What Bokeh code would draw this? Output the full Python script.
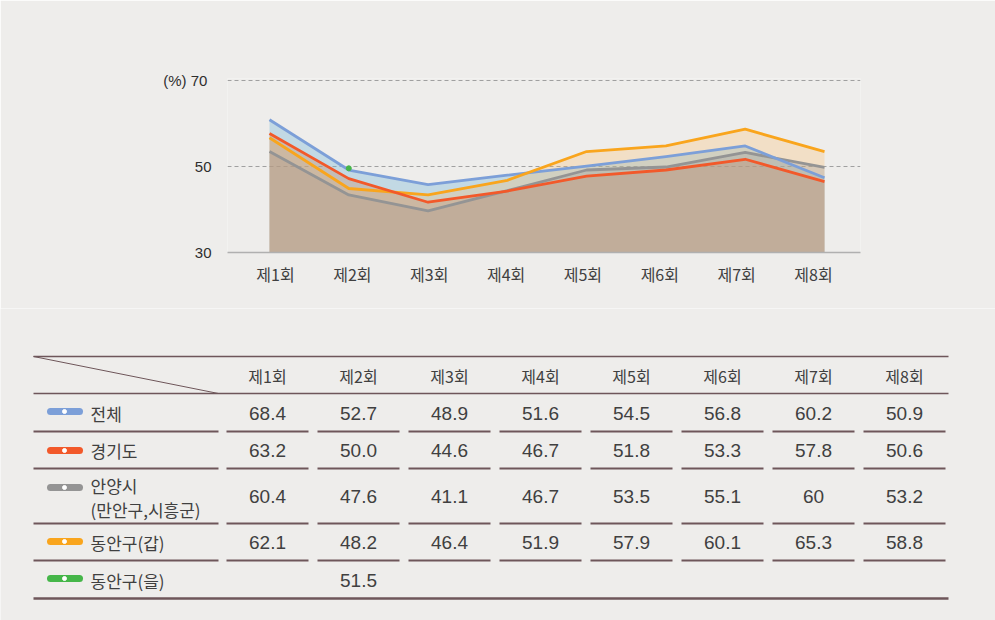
from bokeh.plotting import figure
from bokeh.models import Range1d, FixedTicker, LinearAxis
from bokeh.core.properties import value
from bokeh.embed import file_html
from bokeh.resources import INLINE

# ---------------- data ----------------
rounds = ["제1회", "제2회", "제3회", "제4회", "제5회", "제6회", "제7회", "제8회"]
x_idx = [1, 2, 3, 4, 5, 6, 7, 8]

series_names = ["전체", "경기도", "안양시", "동안구(갑)", "동안구(을)"]
# values as drawn in the chart
chart_total = [60.9, 49.2, 45.8, 48.0, 50.1, 52.3, 54.8, 47.4]
chart_gyeonggi = [57.7, 47.2, 41.7, 44.3, 47.8, 49.2, 51.7, 46.5]
chart_anyang = [53.5, 43.4, 39.7, 44.4, 49.2, 49.9, 53.3, 49.8]
chart_dongan_gap = [56.7, 44.9, 43.4, 46.8, 53.5, 54.8, 58.7, 53.5]
chart_dongan_eul_x = [2]
chart_dongan_eul = [49.6]

# values printed in the table
table_total = ["68.4", "52.7", "48.9", "51.6", "54.5", "56.8", "60.2", "50.9"]
table_gyeonggi = ["63.2", "50.0", "44.6", "46.7", "51.8", "53.3", "57.8", "50.6"]
table_anyang = ["60.4", "47.6", "41.1", "46.7", "53.5", "55.1", "60", "53.2"]
table_dongan_gap = ["62.1", "48.2", "46.4", "51.9", "57.9", "60.1", "65.3", "58.8"]
table_dongan_eul = ["", "51.5", "", "", "", "", "", ""]

y_ticks = [30, 50, 70]
y_tick_labels = {30: "30", 50: "50", 70: "(%)  70"}

# ---------------- styles ----------------
BG = "#eeedeb"
C_BLUE, C_RED, C_GRAY, C_ORANGE, C_GREEN = "#7c9fd8", "#f2592a", "#949494", "#f9a51d", "#45b649"
KFONT = "Noto Sans CJK KR"
NFONT = "Liberation Sans"
TXT = "#404040"
RULE = "#6e565a"

# ---------------- chart ----------------
p = figure(width=995, height=308, x_range=Range1d(0.4703, 8.454), y_range=Range1d(30, 70.5),
           output_backend="svg", toolbar_location=None,
           min_border_left=227, min_border_right=135, min_border_top=78, min_border_bottom=56)
p.background_fill_color = BG
p.border_fill_color = BG
p.outline_line_color = None
p.xaxis.visible = False
p.xgrid.visible = False

p.yaxis.ticker = FixedTicker(ticks=y_ticks)
p.yaxis.major_label_overrides = y_tick_labels
p.yaxis.major_label_text_font = NFONT
p.yaxis.major_label_text_font_size = "15px"
p.yaxis.major_label_text_color = "#2e2e2e"
p.yaxis.axis_line_color = None
p.yaxis.major_tick_line_color = None
p.yaxis.minor_tick_line_color = None
p.yaxis.major_tick_out = 0
p.yaxis.major_label_standoff = 16

p.ygrid.ticker = FixedTicker(ticks=[50, 70])
p.ygrid.grid_line_color = "#a0a0a0"
p.ygrid.grid_line_dash = "4 3"
p.ygrid.grid_line_width = 1.2

p.extra_x_ranges = {"lab": Range1d(0.3755, 8.6115)}
xax = LinearAxis(x_range_name="lab", ticker=FixedTicker(ticks=x_idx),
                 major_label_overrides={i: r for i, r in zip(x_idx, rounds)})
xax.axis_line_color = "#b0b0b0"
xax.axis_line_width = 1.5
xax.major_tick_line_color = None
xax.minor_tick_line_color = None
xax.major_tick_out = 0
xax.major_label_standoff = 9
xax.major_label_text_font = KFONT
xax.major_label_text_font_size = "16px"
xax.major_label_text_color = "#404040"
p.add_layout(xax, "below")

# areas (translucent, overlapping)
p.varea(x=x_idx, y1=30, y2=chart_total, fill_color="#70b4d7", fill_alpha=0.35)
p.varea(x=x_idx, y1=30, y2=chart_dongan_gap, fill_color="#feb957", fill_alpha=0.25)
p.varea(x=x_idx, y1=30, y2=chart_anyang, fill_color="#969696", fill_alpha=0.30)
p.varea(x=x_idx, y1=30, y2=chart_gyeonggi, fill_color="#c49072", fill_alpha=0.38)

for vals, col in [(chart_anyang, C_GRAY), (chart_total, C_BLUE),
                  (chart_dongan_gap, C_ORANGE), (chart_gyeonggi, C_RED)]:
    p.line(x_idx, vals, line_color=col, line_width=2.8, line_join="round")
p.scatter(chart_dongan_eul_x, chart_dongan_eul, size=5, color=C_GREEN)

# ---------------- table ----------------
t = figure(width=995, height=312, x_range=Range1d(0, 995), y_range=Range1d(312, 0),
           output_backend="svg", toolbar_location=None,
           x_axis_location=None, y_axis_location=None,
           min_border_left=0, min_border_right=0, min_border_top=0, min_border_bottom=0)
t.background_fill_color = BG
t.border_fill_color = BG
t.outline_line_color = None
t.xgrid.visible = False
t.ygrid.visible = False

col_x = [267 + 91 * i for i in range(8)]
left, right = 33, 948

# rules
t.segment(x0=[left], y0=[48], x1=[right], y1=[48], line_color=RULE, line_width=1.5)
t.segment(x0=[left], y0=[48], x1=[218], y1=[85], line_color=RULE, line_width=1)
t.segment(x0=[left], y0=[85], x1=[right], y1=[85], line_color=RULE, line_width=1.5)
row_rules = [123, 160, 215, 252]
sx0, sx1, sy = [], [], []
for ry in row_rules:
    sx0.append(left); sx1.append(218); sy.append(ry)
    for cx in col_x:
        sx0.append(cx - 41); sx1.append(min(cx + 41, right)); sy.append(ry)
t.segment(x0=sx0, y0=sy, x1=sx1, y1=sy, line_color=RULE, line_width=2)
t.segment(x0=[left], y0=[290], x1=[right], y1=[290], line_color=RULE, line_width=2.5)

# header
t.text(x=col_x, y=[67] * 8, text=rounds, text_font=value(KFONT), text_font_size="16px",
       text_color=TXT, text_align="center", text_baseline="middle")

rows = [
    (table_total, C_BLUE, 105, 103),
    (table_gyeonggi, C_RED, 142, 142),
    (table_anyang, C_GRAY, 188, 179),
    (table_dongan_gap, C_ORANGE, 233.5, 233),
    (table_dongan_eul, C_GREEN, 272, 270),
]
for (vals, col, vy, py) in rows:
    t.text(x=col_x, y=[vy] * 8, text=vals, text_font=value(NFONT), text_font_size="19px",
           text_color=TXT, text_align="center", text_baseline="middle")
    t.segment(x0=[50], y0=[py], x1=[79], y1=[py], line_color=col, line_width=7, line_cap="round")
    t.scatter([64], [py], size=4, color="white")

label_x = [90, 90, 90, 90, 90, 90]
label_y = [105, 142, 177, 201, 233.5, 272]
label_txt = ["전체", "경기도", "안양시", "(만안구,시흥군)", "동안구(갑)", "동안구(을)"]
t.text(x=label_x, y=label_y, text=label_txt, text_font=value(KFONT), text_font_size="17px",
       text_color=TXT, text_align="left", text_baseline="middle")

open("out.html", "w").write(file_html([p, t], INLINE))
